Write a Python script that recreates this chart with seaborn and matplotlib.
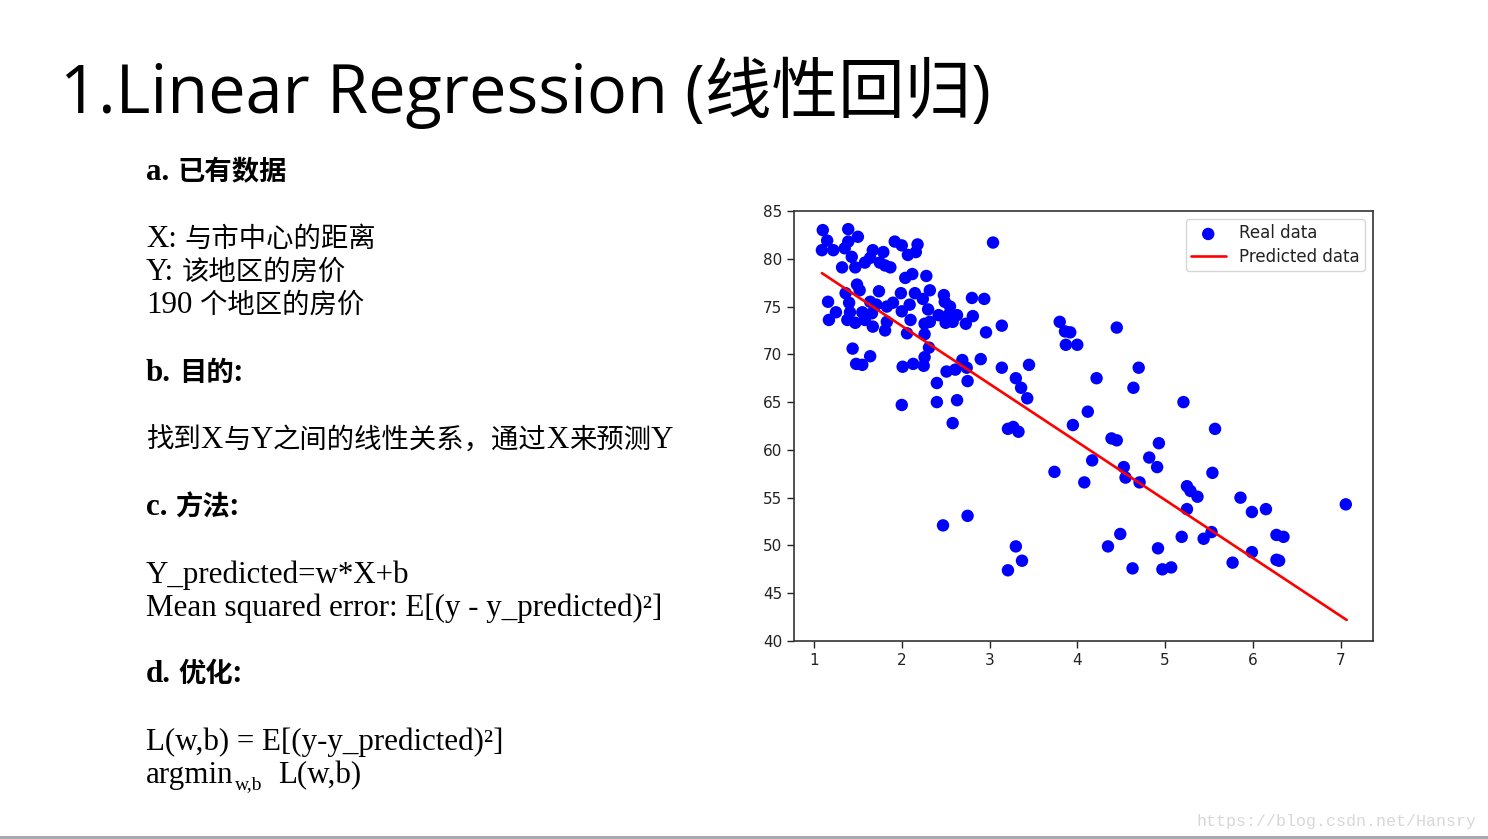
import matplotlib
matplotlib.use("Agg")
import matplotlib.pyplot as plt
import seaborn as sns
import pandas as pd

# ---------------- data ----------------
distance = [
    1.10, 1.39, 1.15, 1.50, 1.09, 1.22, 1.35, 1.39, 1.43, 1.32,
    1.47, 1.58, 1.67, 1.79, 1.64, 1.92, 2.00, 2.18, 2.07, 2.16,
    1.75, 1.87, 1.81, 2.12, 2.04, 2.28, 3.04, 1.49, 1.52, 1.36,
    1.74, 1.99, 2.15, 2.32, 2.24, 2.48, 2.80, 2.94, 1.16, 1.40,
    1.64, 1.71, 1.90, 1.83, 2.09, 2.49, 2.55, 1.25, 1.41, 1.55,
    1.66, 2.00, 2.30, 2.63, 2.42, 2.53, 2.81, 1.17, 1.38, 1.47,
    1.58, 1.67, 1.83, 1.81, 2.10, 2.26, 2.32, 2.50, 2.58, 2.73,
    3.14, 2.96, 2.06, 2.26, 3.80, 3.86, 3.92, 3.87, 4.00, 1.44,
    1.64, 1.48, 1.55, 2.31, 2.26, 2.01, 2.13, 2.25, 2.69, 2.90,
    2.51, 2.61, 2.74, 3.14, 3.45, 2.40, 2.75, 3.30, 3.36, 3.43,
    2.00, 2.40, 2.63, 4.12, 2.58, 3.21, 3.27, 3.33, 3.95, 3.74,
    4.08, 2.75, 2.47, 3.30, 3.37, 3.21, 4.17, 4.45, 4.70, 4.22,
    4.64, 5.21, 5.57, 4.39, 4.45, 4.93, 4.53, 4.82, 4.91, 4.55,
    4.71, 5.54, 5.25, 5.29, 5.37, 5.86, 5.25, 5.99, 6.15, 7.06,
    5.53, 5.44, 5.19, 4.49, 4.35, 4.92, 6.27, 6.35, 5.99, 5.77,
    6.27, 6.30, 4.63, 4.97, 5.07,
]
price = [
    83.0, 83.1, 81.9, 82.3, 80.9, 80.9, 81.1, 81.8, 80.2, 79.1,
    79.1, 79.6, 80.9, 80.7, 80.1, 81.8, 81.4, 81.5, 80.4, 80.7,
    79.6, 79.1, 79.3, 78.4, 78.0, 78.2, 81.7, 77.3, 76.7, 76.4,
    76.6, 76.4, 76.4, 76.7, 75.8, 76.2, 75.9, 75.8, 75.5, 75.4,
    75.5, 75.2, 75.4, 75.0, 75.2, 75.5, 75.0, 74.4, 74.4, 74.4,
    74.3, 74.5, 74.7, 74.1, 74.1, 74.1, 74.0, 73.6, 73.6, 73.3,
    73.6, 72.9, 73.4, 72.5, 73.6, 73.2, 73.4, 73.3, 73.4, 73.2,
    73.0, 72.3, 72.2, 72.1, 73.4, 72.4, 72.3, 71.0, 71.0, 70.6,
    69.8, 69.0, 68.9, 70.7, 69.7, 68.7, 69.0, 68.8, 69.4, 69.5,
    68.2, 68.4, 68.6, 68.6, 68.9, 67.0, 67.2, 67.5, 66.5, 65.4,
    64.7, 65.0, 65.2, 64.0, 62.8, 62.2, 62.4, 61.9, 62.6, 57.7,
    56.6, 53.1, 52.1, 49.9, 48.4, 47.4, 58.9, 72.8, 68.6, 67.5,
    66.5, 65.0, 62.2, 61.2, 61.0, 60.7, 58.2, 59.2, 58.2, 57.1,
    56.6, 57.6, 56.2, 55.7, 55.1, 55.0, 53.8, 53.5, 53.8, 54.3,
    51.4, 50.7, 50.9, 51.2, 49.9, 49.7, 51.1, 50.9, 49.3, 48.2,
    48.5, 48.4, 47.6, 47.5, 47.7,
]
pred_x = [1.09, 7.07]
pred_y = [78.5, 42.2]

x_ticks = [1, 2, 3, 4, 5, 6, 7]
y_ticks = [40, 45, 50, 55, 60, 65, 70, 75, 80, 85]

title_text = "1.Linear Regression (线性回归)"
body_lines = [
    ("a. 已有数据", True),
    ("X: 与市中心的距离", False),
    ("Y: 该地区的房价", False),
    ("190 个地区的房价", False),
    ("b. 目的:", True),
    ("找到X与Y之间的线性关系，通过X来预测Y", False),
    ("c. 方法:", True),
    ("Y_predicted=w*X+b", False),
    ("Mean squared error: E[(y - y_predicted)²]", False),
    ("d. 优化:", True),
    ("L(w,b) = E[(y-y_predicted)²]", False),
]
body_baselines_px = [180, 247, 280, 313, 381, 448, 515, 583, 616, 682, 750]
argmin_parts = ("argmin", "w,b", "L(w,b)")
watermark = "https://blog.csdn.net/Hansry"

# ---------------- figure ----------------
sns.set_theme(style="ticks")
plt.rcParams["font.family"] = ["DejaVu Sans", "Noto Sans CJK SC"]

W, H = 1488, 839
fig = plt.figure(figsize=(W / 100, H / 100), dpi=100)
fig.patch.set_facecolor("white")
renderer = fig.canvas.get_renderer()


def fy(px):
    return 1 - px / H


def fx(px):
    return px / W


LATIN = "Liberation Serif"
CJK = "Noto Sans CJK SC"
LATIN_SIZE = 22.3
CJK_SIZE = 19.7


def is_cjk(ch):
    return ord(ch) > 0x2E80


def split_runs(text):
    runs = []
    for i, ch in enumerate(text):
        c = is_cjk(ch)
        if ch == ":" and i > 0 and is_cjk(text[i - 1]):
            c = True
        if runs and runs[-1][1] == c:
            runs[-1][0] += ch
        else:
            runs.append([ch, c])
    return runs


def text_width(s, family, size, weight):
    t = fig.text(0, 0, s, family=family, fontsize=size, fontweight=weight)
    w = t.get_window_extent(renderer).width
    t.remove()
    return w


def space_width(family, size, weight):
    return (text_width("a a", family, size, weight)
            - text_width("aa", family, size, weight))


def draw_mixed(x_px, base_px, text, bold):
    weight = "bold" if bold else "normal"
    x = x_px
    for s, c in split_runs(text):
        fam = CJK if c else LATIN
        size = CJK_SIZE if c else LATIN_SIZE
        lead = len(s) - len(s.lstrip(" "))
        core = s.strip(" ")
        trail = len(s) - len(s.rstrip(" ")) if core else 0
        sw = space_width(fam, size, weight)
        x += lead * sw
        if core:
            t = fig.text(fx(x), fy(base_px), core, family=fam, fontsize=size,
                         fontweight=weight, va="baseline", ha="left",
                         color="black")
            x += t.get_window_extent(renderer).width
        x += trail * sw
    return x


# title
fig.text(fx(60), fy(113), title_text, fontsize=48, color="black",
         family=["Open Sans", "Noto Sans CJK SC"], va="baseline", ha="left")

for (txt, bold), base in zip(body_lines, body_baselines_px):
    draw_mixed(146, base, txt, bold)

# argmin line with subscript
xa = draw_mixed(146, 783, argmin_parts[0], False)
fig.text(fx(xa + 1), fy(789), argmin_parts[1], fontsize=14, family=LATIN,
         va="baseline", ha="left", color="black")
fig.text(fx(278), fy(783), argmin_parts[2], fontsize=LATIN_SIZE, family=LATIN,
         va="baseline", ha="left", color="black")

# watermark
fig.text(fx(1477), fy(826), watermark, fontsize=12, color="#d8d8d8",
         family=["Liberation Mono"], va="baseline", ha="right")

# bottom gray rule
fig.add_artist(plt.Line2D([0, 1], [fy(837), fy(837)], color="#a9a9b0",
                          linewidth=2.2, transform=fig.transFigure))

# ---------------- scatter chart ----------------
ax = fig.add_axes([fx(794), fy(641), fx(1373) - fx(794), (641 - 211) / H])
df = pd.DataFrame({"distance": distance, "price": price})
pred_df = pd.DataFrame({"distance": pred_x, "price": pred_y})

sns.scatterplot(data=df, x="distance", y="price", ax=ax, color="blue",
                s=80, edgecolor="none", label="Real data", zorder=2)
sns.lineplot(data=pred_df, x="distance", y="price", ax=ax, color="red",
             linewidth=1.9, label="Predicted data", zorder=3)

ax.set_xlim(0.772, 7.37)
ax.set_ylim(40, 85)
ax.set_xticks(x_ticks)
ax.set_yticks(y_ticks)
ax.set_xlabel("")
ax.set_ylabel("")
ax.tick_params(labelsize=11, length=5, width=1, colors="#222222")
for sp in ax.spines.values():
    sp.set_color("#333333")
    sp.set_linewidth(1.2)

leg = ax.legend(loc="upper right", fontsize=12, frameon=True,
                handlelength=2.1, borderpad=0.3, labelspacing=0.35)
leg.get_frame().set_edgecolor("#cccccc")
leg.get_frame().set_linewidth(1.0)
for t in leg.get_texts():
    t.set_color("#222222")

fig.savefig("out.png", dpi=100, facecolor="white")
